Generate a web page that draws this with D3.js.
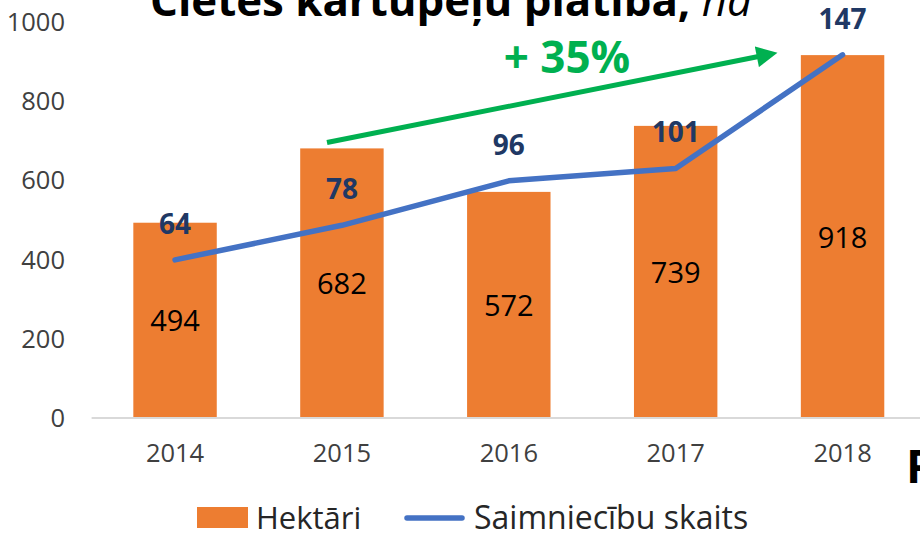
<!DOCTYPE html>
<html>
<head>
<meta charset="utf-8">
<script src="https://cdn.jsdelivr.net/npm/d3@7"></script>
<style>
    body { margin: 0; background: #fff; }
    svg { display: block; font-family: "Open Sans", "Noto Sans", sans-serif; }
</style>
</head>
<body>
<svg id="chart" width="920" height="533"></svg>
<script>
// data
var years = ["2014", "2015", "2016", "2017", "2018"];
var hectares = [494, 682, 572, 739, 918];
var farms = [64, 78, 96, 101, 147];
var yTicks = [0, 200, 400, 600, 800, 1000];
var growthLabel = "+ 35%";

var COLORS = {
    bar : "#ed7d31",
    line : "#4472c4",
    lineLabel : "#203864",
    axis : "#d9d9d9",
    tick : "#404040",
    green : "#00b050"
};

var svg = d3.select("#chart");

// plot area (the right side is cut off like in the original image)
var plot = {left : 91.6, right : 926, top : 22.7, bottom : 418};

var x = d3.scaleBand()
          .domain(years)
          .range([plot.left, plot.right])
          .paddingInner(0.5)
          .paddingOuter(0.25);
var y = d3.scaleLinear()
          .domain([0, 1000])
          .range([plot.bottom, plot.top]);
// hidden secondary axis for the farm count line
var y2 = d3.scaleLinear()
           .domain([0, 160])
           .range([plot.bottom, plot.top]);

var rows = years.map(function (yr, i) {
    return {year : yr, ha : hectares[i], farms : farms[i]};
});

// title, partly cut off at the top
var title = svg.append("text")
               .attr("x", 150)
               .attr("y", 16)
               .attr("font-size", 40)
               .attr("fill", "#000");
title.append("tspan")
     .attr("font-weight", "bold")
     .text("Cietes kartupeļu platība,");
title.append("tspan")
     .attr("font-style", "italic")
     .text(" ha");
// fit title to the width seen in the picture
var titleW = title.node().getComputedTextLength();
title.attr("font-size", 40 * 602 / titleW);

// y axis labels (no axis line)
var yAxis = d3.axisLeft(y)
              .tickValues(yTicks)
              .tickFormat(d3.format("d"))
              .tickSize(0)
              .tickPadding(0);
var yAxisG = svg.append("g")
                .attr("transform", "translate(65,0)")
                .call(yAxis);
yAxisG.select(".domain").remove();
yAxisG.selectAll("text")
      .attr("font-size", 25.5)
      .attr("font-family", "Open Sans")
      .attr("fill", COLORS.tick);

// bars
svg.selectAll(".bar")
   .data(rows)
   .enter()
   .append("rect")
   .attr("class", "bar")
   .attr("x", function (d) { return x(d.year); })
   .attr("y", function (d) { return y(d.ha); })
   .attr("width", x.bandwidth())
   .attr("height", function (d) { return y(0) - y(d.ha); })
   .attr("fill", COLORS.bar);

// x axis
var xAxis = d3.axisBottom(x)
              .tickSize(0)
              .tickPadding(26);
var xAxisG = svg.append("g")
                .attr("transform", "translate(0," + plot.bottom + ")")
                .call(xAxis);
xAxisG.select(".domain")
      .attr("stroke", COLORS.axis)
      .attr("stroke-width", 2)
      .attr("d", "M" + plot.left + ",0H" + plot.right);
xAxisG.selectAll("text")
      .attr("font-size", 25.5)
      .attr("font-family", "Open Sans")
      .attr("fill", COLORS.tick);

// bar value labels in the middle of the bars
svg.selectAll(".bar-label")
   .data(rows)
   .enter()
   .append("text")
   .attr("class", "bar-label")
   .attr("x", function (d) { return x(d.year) + x.bandwidth() / 2; })
   .attr("y", function (d) { return (y(d.ha) + y(0)) / 2 + 11; })
   .attr("text-anchor", "middle")
   .attr("font-size", 29)
   .attr("fill", "#000")
   .text(function (d) { return d.ha; });

// farm count line
var line = d3.line()
             .x(function (d) { return x(d.year) + x.bandwidth() / 2; })
             .y(function (d) { return y2(d.farms); });
svg.append("path")
   .datum(rows)
   .attr("d", line)
   .attr("fill", "none")
   .attr("stroke", COLORS.line)
   .attr("stroke-width", 5.5)
   .attr("stroke-linejoin", "round")
   .attr("stroke-linecap", "round");

svg.selectAll(".line-label")
   .data(rows)
   .enter()
   .append("text")
   .attr("class", "line-label")
   .attr("x", function (d) { return x(d.year) + x.bandwidth() / 2; })
   .attr("y", function (d) { return y2(d.farms) - 26; })
   .attr("text-anchor", "middle")
   .attr("font-size", 28)
   .attr("font-weight", "bold")
   .attr("fill", COLORS.lineLabel)
   .text(function (d) { return d.farms; });

// green growth arrow from 2015 to 2018
var defs = svg.append("defs");
defs.append("marker")
    .attr("id", "arrow")
    .attr("viewBox", "0 0 10 10")
    .attr("refX", 2)
    .attr("refY", 5)
    .attr("markerWidth", 4.4)
    .attr("markerHeight", 4.2)
    .attr("orient", "auto")
    .attr("markerUnits", "strokeWidth")
    .append("path")
    .attr("d", "M0,0L10,5L0,10Z")
    .attr("fill", COLORS.green);

svg.append("line")
   .attr("x1", 327)
   .attr("y1", 142.5)
   .attr("x2", 761)
   .attr("y2", 56)
   .attr("stroke", COLORS.green)
   .attr("stroke-width", 5)
   .attr("marker-end", "url(#arrow)");

svg.append("text")
   .attr("x", 567)
   .attr("y", 73)
   .attr("text-anchor", "middle")
   .attr("font-size", 44)
   .attr("font-weight", "bold")
   .attr("fill", COLORS.green)
   .text(growthLabel);

// legend
var legend = svg.append("g");
legend.append("rect")
      .attr("x", 197)
      .attr("y", 507)
      .attr("width", 51)
      .attr("height", 21)
      .attr("fill", COLORS.bar);
legend.append("text")
      .attr("x", 256)
      .attr("y", 529)
      .attr("font-size", 31)
      .attr("fill", "#262626")
      .text("Hektāri");
legend.append("line")
      .attr("x1", 407)
      .attr("x2", 462)
      .attr("y1", 518)
      .attr("y2", 518)
      .attr("stroke", COLORS.line)
      .attr("stroke-width", 5.5)
      .attr("stroke-linecap", "round");
legend.append("text")
      .attr("x", 474)
      .attr("y", 529)
      .attr("font-size", 32)
      .attr("fill", "#262626")
      .text("Saimniecību skaits");

// neighbouring slide text cut off at the right edge
svg.append("text")
   .attr("x", 906)
   .attr("y", 483)
   .attr("font-size", 46)
   .attr("font-weight", "bold")
   .attr("fill", "#000")
   .text("P");
</script>
</body>
</html>
